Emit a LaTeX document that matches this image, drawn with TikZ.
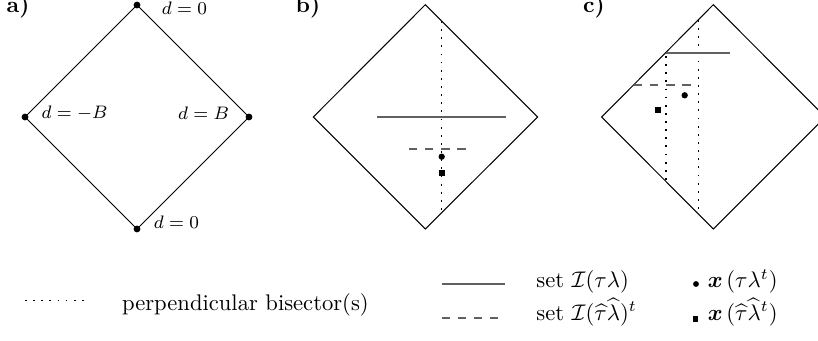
\documentclass[tikz,border=0pt]{standalone}
\usepackage{amsmath,amssymb}
\definecolor{setgray}{gray}{0.38}
\begin{document}
\begin{tikzpicture}[x=0.4425pt,y=-0.4425pt,
  frame/.style={draw=black,line width=0.45pt},
  bisect/.style={draw=black,line width=0.55pt,dash pattern=on 0.8pt off 2.8pt},
  setline/.style={draw=setgray,line width=0.8pt},
  setdash/.style={draw=setgray,line width=0.8pt,dash pattern=on 3.6pt off 3.5pt},
  markfill/.style={fill=black},
  vlabel/.style={inner sep=0pt,font=\fontsize{8.5}{10}\selectfont},
  panel/.style={inner sep=0pt,font=\bfseries},
  legtext/.style={inner sep=0pt,anchor=base west}]
\useasboundingbox (0,0) rectangle (818,341);
\clip (0,0) rectangle (818,341);

% ---------- panel a ----------
\node[panel] (la) at (18,7) {a)};
\coordinate (aT) at (137,5);
\coordinate (aL) at (25,117);
\coordinate (aR) at (249,117);
\coordinate (aB) at (137,229);
\draw[frame] (aT) -- (aR) -- (aB) -- (aL) -- cycle;
\foreach \v in {aT,aL,aR,aB} \fill[markfill] (\v) circle[radius=1.5pt];
\node[vlabel] (dtop) at (184.5,8) {$d=0$};
\node[vlabel] (dleft) at (74.5,113) {$d=-B$};
\node[vlabel] (dright) at (203.5,113) {$d=B$};
\node[vlabel] (dbot) at (176.5,222) {$d=0$};

% ---------- panel b ----------
\node[panel] (lb) at (308,7) {b)};
\coordinate (bT) at (425.3,4.7);
\coordinate (bL) at (313.3,117);
\coordinate (bR) at (537.7,117);
\coordinate (bB) at (425.3,229);
\draw[frame] (bT) -- (bR) -- (bB) -- (bL) -- cycle;
\coordinate (bv1) at (441.7,21);
\coordinate (bv2) at (441.7,212.6);
\draw[bisect] (bv1) -- (bv2);
\coordinate (bs1) at (377.3,116.7);
\coordinate (bs2) at (505.7,116.7);
\draw[setline] (bs1) -- (bs2);
\coordinate (bd1) at (409.3,148.7);
\coordinate (bd2) at (465.7,148.7);
\draw[setdash] (bd1) -- (bd2);
\coordinate (bdot) at (441.7,156.7);
\coordinate (bsq) at (441.7,173);
\fill[markfill] (bdot) circle[radius=1.4pt];
\fill[markfill] (bsq) ++(-1.35pt,-1.35pt) rectangle ++(2.7pt,2.7pt);

% ---------- panel c ----------
\node[panel] (lc) at (594,7) {c)};
\coordinate (cT) at (713.3,4.7);
\coordinate (cL) at (601.7,117);
\coordinate (cR) at (825.3,117);
\coordinate (cB) at (713.3,229);
\draw[frame] (cT) -- (cR) -- (cB) -- (cL) -- cycle;
\coordinate (cs1) at (666,52.7);
\coordinate (cs2) at (730,52.7);
\coordinate (cv1a) at (666,56);
\coordinate (cv1b) at (666,181);
\coordinate (cv2a) at (698.7,20);
\coordinate (cv2b) at (698.7,214);
\draw[bisect] (cv1a) -- (cv1b);
\draw[bisect] (cv2a) -- (cv2b);
\draw[setline] (cs1) -- (cs2);
\coordinate (cd1) at (634.3,84.7);
\coordinate (cd2) at (690.7,84.7);
\draw[setdash] (cd1) -- (cd2);
\coordinate (cdot) at (684.7,95.3);
\coordinate (csq) at (657.7,109.7);
\fill[markfill] (cdot) circle[radius=1.4pt];
\fill[markfill] (csq) ++(-1.35pt,-1.35pt) rectangle ++(2.7pt,2.7pt);

% ---------- legend ----------
\coordinate (lg1a) at (25,300.7);
\coordinate (lg1b) at (84,300.7);
\draw[bisect] (lg1a) -- (lg1b);
\node[legtext] (tbis) at (121.7,310.3) {perpendicular bisector(s)};

\coordinate (lg2a) at (441.7,284.3);
\coordinate (lg2b) at (505,284.3);
\draw[setline] (lg2a) -- (lg2b);
\coordinate (lg3a) at (441.7,318.3);
\coordinate (lg3b) at (505,318.3);
\draw[setdash] (lg3a) -- (lg3b);
\node[legtext] (tset1) at (536,287.3) {set $\mathcal{I}(\tau\lambda)$};
\node[legtext] (tset2) at (536,320) {set $\mathcal{I}(\widehat{\tau}\widehat{\lambda})^t$};

\coordinate (ldot1) at (696,284);
\coordinate (lsq1) at (695.5,319.3);
\fill[markfill] (ldot1) circle[radius=1.3pt];
\fill[markfill] (lsq1) ++(-1.25pt,-1.25pt) rectangle ++(2.5pt,2.5pt);
\node[legtext] (tx1) at (707.3,287.3) {$\boldsymbol{x}\,(\tau\lambda^t)$};
\node[legtext] (tx2) at (707.3,320) {$\boldsymbol{x}\,(\widehat{\tau}\widehat{\lambda}^t)$};
\end{tikzpicture}
\end{document}
